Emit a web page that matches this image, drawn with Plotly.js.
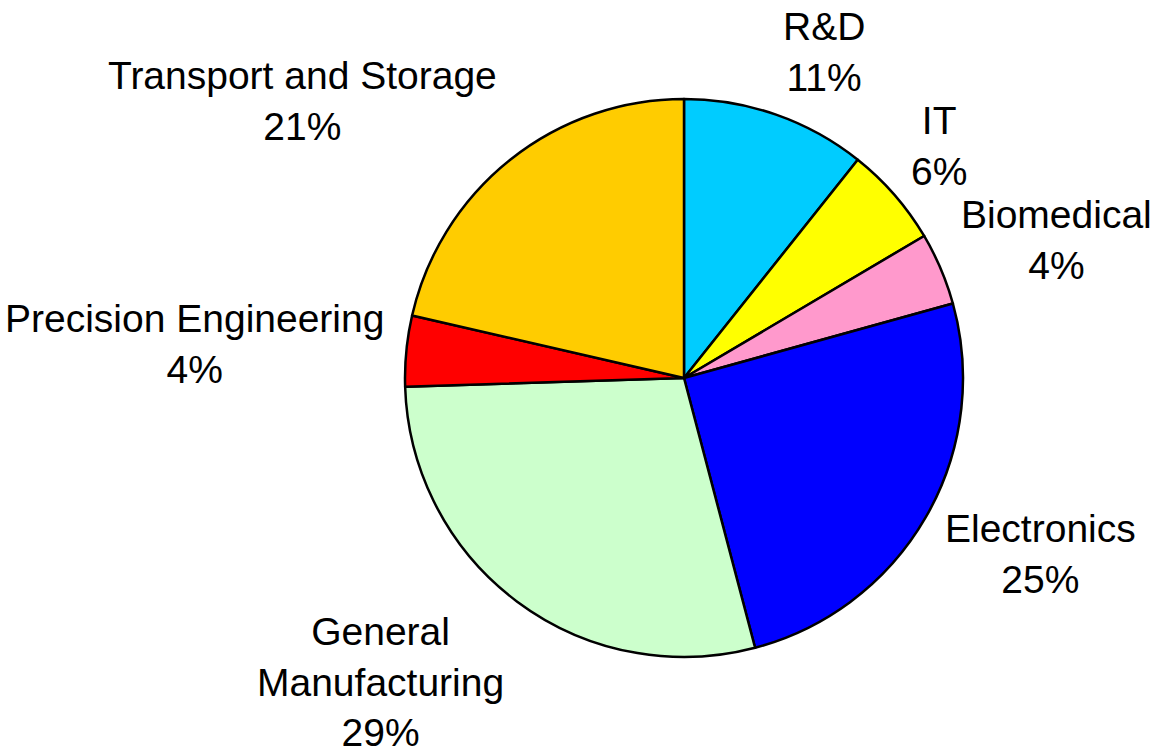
<!DOCTYPE html>
<html>
<head>
<meta charset="utf-8">
<script src="https://cdn.plot.ly/plotly-3.0.1.min.js"></script>
<style>html,body{margin:0;padding:0;background:#fff;}#chart{width:1176px;height:754px;}</style>
</head>
<body>
<div id="chart"></div>
<script>
const categories = ["R&D", "IT", "Biomedical", "Electronics", "General<br>Manufacturing", "Precision Engineering", "Transport and Storage"];
const shares = [10.7, 5.8, 4.2, 25.2, 28.6, 4.1, 21.4];
const sliceColors = ["#00CCFF", "#FFFF00", "#FF99CC", "#0000FF", "#CCFFCC", "#FF0000", "#FFCC00"];

// layout geometry (style, not data)
const FIG_W = 1176, FIG_H = 754;
const MARGIN = { l: 192, r: 0, t: 99, b: 97 };
const PLOT_W = FIG_W - MARGIN.l - MARGIN.r;
const PLOT_H = FIG_H - MARGIN.t - MARGIN.b;
const PIE_R = Math.min(PLOT_W, PLOT_H) / 2;
const LABEL_GAP = 22;
const HALF_LINE = 21;
const FONT = { family: "Liberation Sans, Arial, sans-serif", size: 39, color: "#000000" };

const total = shares.reduce((a, b) => a + b, 0);
const annotations = [];
let cum = 0;
shares.forEach((v, i) => {
  const mid = (cum + v / 2) / total * 2 * Math.PI;
  cum += v;
  const dx = Math.sin(mid), dy = -Math.cos(mid);
  const rr = PIE_R + LABEL_GAP;
  const text = categories[i] + "<br>" + Math.round(v / total * 100) + "%";
  const nLines = text.split("<br>").length;
  const f = Math.max(-1, Math.min(1, 1.25 * dy));
  annotations.push({
    xref: "paper", yref: "paper",
    x: 0.5 + dx * rr / PLOT_W,
    y: 0.5 - dy * rr / PLOT_H,
    xanchor: dx >= 0 ? "left" : "right",
    yanchor: "middle",
    yshift: -f * nLines * HALF_LINE,
    text: text,
    align: "center",
    showarrow: false,
    borderpad: 0,
    borderwidth: 0,
    font: FONT
  });
});

const trace = {
  type: "pie",
  labels: categories,
  values: shares,
  sort: false,
  direction: "clockwise",
  rotation: 0,
  marker: { colors: sliceColors, line: { color: "#000000", width: 2.5 } },
  textinfo: "none",
  hoverinfo: "none",
  showlegend: false
};

const layout = {
  width: FIG_W,
  height: FIG_H,
  margin: MARGIN,
  paper_bgcolor: "#ffffff",
  font: FONT,
  showlegend: false,
  annotations: annotations
};

Plotly.newPlot("chart", [trace], layout, { displayModeBar: false, staticPlot: true });
</script>
</body>
</html>
